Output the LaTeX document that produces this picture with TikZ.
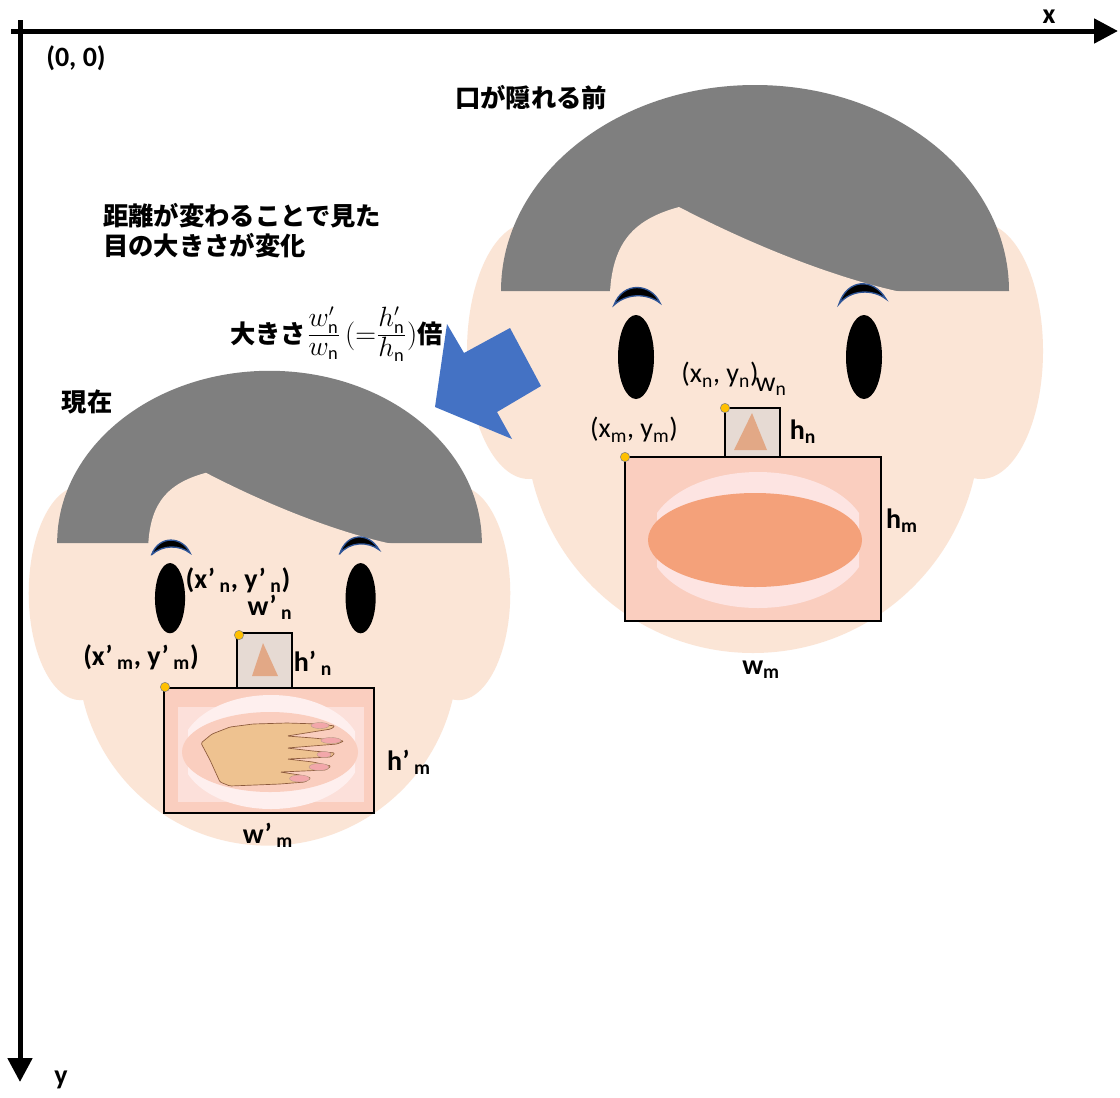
\documentclass[tikz,border=0pt]{standalone}
\usepackage{amsmath}
\usepackage{graphicx}
\usepackage{fontspec}
\setmainfont{Carlito}
\newfontfamily\jpfont{Noto Sans CJK JP}
\usetikzlibrary{arrows.meta}
\definecolor{skin}{HTML}{FBE5D6}
\definecolor{hair}{HTML}{7F7F7F}
\definecolor{mouthbg}{HTML}{FACEBF}
\definecolor{mouthin}{HTML}{FCE0DA}
\definecolor{teeth}{HTML}{FDE4E2}
\definecolor{tongue}{HTML}{F4A17A}
\definecolor{nosebg}{HTML}{E6DAD3}
\definecolor{nosetri}{HTML}{E2A886}
\definecolor{handskin}{HTML}{EEC290}
\definecolor{handline}{HTML}{8C5A3C}
\definecolor{nail}{HTML}{F2A7AA}
\definecolor{dotc}{HTML}{FFC000}
\definecolor{arrowblue}{HTML}{4472C4}
\definecolor{browblue}{HTML}{2F5597}
\newcommand{\ratiofrac}[1]{\scalebox{1.45}{$#1$}}
\newcommand{\ratiosym}[1]{\scalebox{1.25}{$#1$}}
\tikzset{
  x=0.75pt, y=-0.75pt,
  axisline/.style = {line width=3.75pt, -{Triangle[length=18pt,width=18pt]}},
  jp/.style = {font=\jpfont\bfseries\fontsize{19}{22.5}\selectfont, inner sep=0pt},
  lbl/.style = {font=\fontsize{21}{24}\selectfont, inner sep=0pt},
  blbl/.style = {font=\bfseries\fontsize{21}{24}\selectfont, inner sep=0pt},
  boxline/.style = {draw=black, line width=2pt},
  corner/.style = {circle, fill=dotc, draw=gray, line width=0.4pt,
   inner sep=0pt, minimum size=7pt},
  head/.pic = {
    \fill[skin] (-226,60) ellipse[x radius=62, y radius=128];
    \fill[skin] (226,60) ellipse[x radius=62, y radius=128];
    \fill[skin] (-2,135) circle[radius=227];
    \fill[hair] (-254,0) .. controls (-254,-114) and (-140,-206) .. (0,-206)
      .. controls (140,-206) and (254,-114) .. (254,0) -- cycle;
    \fill[skin] (-145,1) .. controls (-142,-50) and (-120,-72) .. (-76,-84)
      .. controls (5,-42) and (85,-12) .. (146,1) -- cycle;
    \filldraw[fill=black, draw=browblue, line width=1pt]
      (-141,14) .. controls (-132,-10) and (-104,-8) .. (-95,12)
      .. controls (-108,2) and (-128,2) .. cycle;
    \filldraw[fill=black, draw=browblue, line width=1pt]
      (84,13) .. controls (92,-12) and (118,-14) .. (131,8)
      .. controls (118,-2) and (96,-2) .. cycle;
    \fill (-119,66) ellipse[x radius=18, y radius=42];
    \fill (109,66) ellipse[x radius=18, y radius=42];
  },
}

\begin{document}
\begin{tikzpicture}
  \useasboundingbox (0,0) rectangle (1120,1097);
  \fill[white] (0,0) rectangle (1120,1097);

  \pic (before) at (755,291) {head};
  \pic (now) [scale=0.836] at (269.5,543) {head};

  % mouth and nose boxes, right face
  \fill[mouthbg] (625,457) rectangle (881,621);
  \begin{scope}
    \clip (657,465) rectangle (859,615);
    \fill[teeth] (758,540) ellipse[x radius=110, y radius=68];
  \end{scope}
  \fill[tongue] (755,540) ellipse[x radius=107, y radius=47];
  \draw[boxline] (625,457) rectangle (881,621);
  \draw[boxline, fill=nosebg] (725,408) rectangle (780,457);
  \fill[nosetri] (752,413) -- (767,450) -- (734,450) -- cycle;

  % mouth and nose boxes, left face
  \fill[mouthbg] (164,688) rectangle (374,813);
  \fill[mouthin] (178,707) rectangle (364,802);
  \begin{scope}
    \clip (188,690) rectangle (355,810);
    \fill[teeth!60!white] (271,752) ellipse[x radius=90, y radius=57];
  \end{scope}
  \fill[mouthbg] (270,752) ellipse[x radius=88, y radius=40];
  \filldraw[fill=handskin, draw=handline, line width=0.5pt, rounded corners=1pt]
    (201,743) -- (212,734) -- (230,727) -- (253,724) -- (287,723) -- (320,724)
    -- (335,726) -- (331,729) -- (287,736) -- (313,738) -- (344,741)
    -- (337,744) -- (287,748) -- (313,751) -- (335,753) -- (331,757)
    -- (287,759) -- (313,762) -- (331,766) -- (326,770) -- (280,772)
    -- (300,775) -- (311,778) -- (305,782) -- (280,784) -- (230,786)
    -- (220,782) -- (210,760) -- cycle;
  \filldraw[fill=nail, draw=handline!60, line width=0.3pt]
    (320,725.5) ellipse[x radius=9, y radius=3];
  \filldraw[fill=nail, draw=handline!60, line width=0.3pt]
    (331,740.5) ellipse[x radius=10, y radius=3];
  \filldraw[fill=nail, draw=handline!60, line width=0.3pt]
    (324,754.5) ellipse[x radius=7, y radius=3];
  \filldraw[fill=nail, draw=handline!60, line width=0.3pt]
    (319,767) ellipse[x radius=10, y radius=3.5];
  \filldraw[fill=nail, draw=handline!60, line width=0.3pt]
    (299.5,778.5) ellipse[x radius=10, y radius=3.5];
  \draw[boxline] (164,688) rectangle (374,813);
  \draw[boxline, fill=nosebg] (237,633) rectangle (292,688);
  \fill[nosetri] (263,643) -- (278,676) -- (252,676) -- cycle;

  \node[corner] (cn) at (725,408) {};
  \node[corner] (cm) at (625,457) {};
  \node[corner] (cn') at (239,635) {};
  \node[corner] (cm') at (165,687) {};

  % arrow from the earlier face to the current one
  \fill[arrowblue] (435,407) -- (447,324) -- (464,353) -- (510,328)
    -- (541,386) -- (497,412) -- (512,439) -- cycle;

  % axes
  \coordinate (xs) at (11,31);
  \coordinate (xe) at (1118,31);
  \coordinate (ys) at (20,20);
  \coordinate (ye) at (20,1082);
  \draw[axisline] (xs) -- (xe);
  \draw[axisline] (ys) -- (ye);
  \node[blbl] (xl) at (1049,17) {x};
  \node[blbl] (yl) at (61,1080) {y};
  \node[blbl] (orig) at (76,58) {(0, 0)};

  \node[jp] (t1) at (531,98) {口が隠れる前};
  \node[jp, align=left, anchor=west] (t2) at (103,231)
    {距離が変わることで見た\\目の大きさが変化};
  \node[jp, anchor=west] (t3) at (230,334)
    {大きさ\ratiofrac{\frac{w'_{\mathrm{n}}}{w_{\mathrm{n}}}}\,\ratiosym{(=}\ratiofrac{\frac{h'_{\mathrm{n}}}{h_{\mathrm{n}}}}\ratiosym{)}倍};
  \node[jp] (t4) at (87,402) {現在};

  \node[lbl] (pn) at (720,375) {(x\textsubscript{n}, y\textsubscript{n})};
  \node[lbl] (wn) at (771,387) {w\textsubscript{n}};
  \node[blbl] (hn) at (803,432) {h\textsubscript{n}};
  \node[lbl] (pm) at (634,430) {(x\textsubscript{m}, y\textsubscript{m})};
  \node[blbl] (hm) at (902,521) {h\textsubscript{m}};
  \node[blbl] (wm) at (761,670) {w\textsubscript{m}};

  \node[blbl] (pn') at (238,580) {(x’\,\textsubscript{n}, y’\,\textsubscript{n})};
  \node[blbl] (wn') at (270,607) {w’\,\textsubscript{n}};
  \node[blbl] (pm') at (141,657) {(x’\,\textsubscript{m}, y’\,\textsubscript{m})};
  \node[blbl] (hn') at (313,663) {h’\,\textsubscript{n}};
  \node[blbl] (hm') at (409,762) {h’\,\textsubscript{m}};
  \node[blbl] (wm') at (268,835) {w’\,\textsubscript{m}};
\end{tikzpicture}
\end{document}
